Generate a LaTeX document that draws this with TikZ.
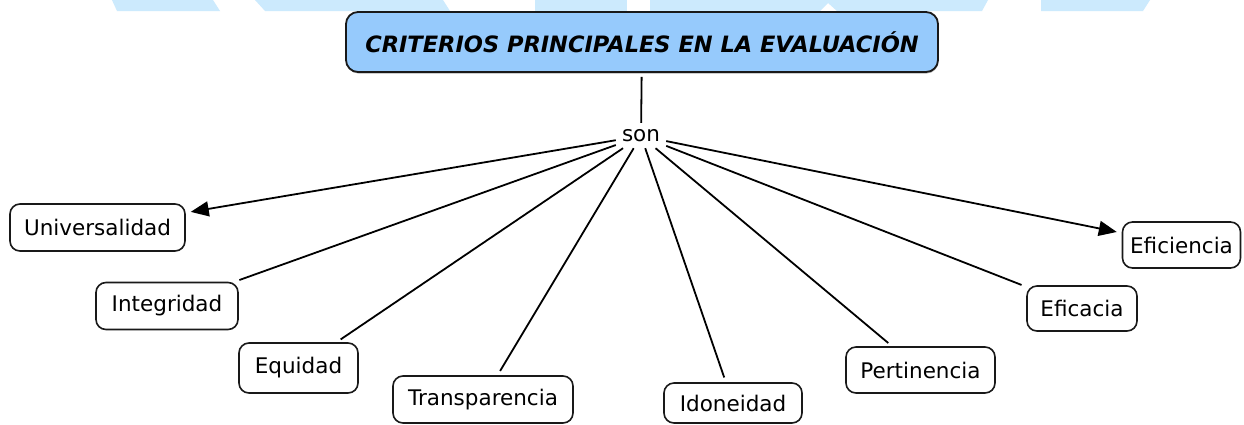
\documentclass[tikz,border=0pt]{standalone}
\usepackage{fontspec}
\setmainfont{DejaVu Sans}
\usetikzlibrary{arrows.meta,shadows}
\definecolor{wm}{RGB}{204,234,253}
\definecolor{titlefill}{RGB}{150,202,252}
\begin{document}
\begin{tikzpicture}[x=1pt,y=-1pt,
  concept/.style={draw=black!90, line width=1.6pt, rounded corners=10pt, fill=white,
    minimum height=47pt, inner sep=0pt, font=\fontsize{21.5}{25}\selectfont},
  link/.style={draw=black, line width=1.8pt, shorten >=5pt},
  arrowlink/.style={link, -{Triangle[length=18pt,width=15pt]}},
  wmshape/.style={fill=wm, draw=none},
  titlebox/.style={draw=black!90, line width=1.8pt, fill=titlefill, rounded corners=12pt,
    minimum width=592pt, minimum height=60pt, inner sep=0pt,
    drop shadow={shadow xshift=0.5pt, shadow yshift=-1.5pt, opacity=0.6},
    font=\fontsize{22.5}{26}\selectfont\bfseries\itshape},
  linkword/.style={minimum width=50pt, minimum height=24pt, inner sep=0pt,
    font=\fontsize{21.5}{25}\selectfont}]
\useasboundingbox (0,0) rectangle (1244,424);
\fill[white] (0,0) rectangle (1244,424);
% watermark shapes at the top
\fill[wmshape] (112,0) -- (213,0) -- (220,11) -- (117,11) -- cycle;
\fill[wmshape] (255,0) -- (443,0) -- (450,11) -- (265,11) -- cycle;
\fill[wmshape] (535,0) -- (627,0) -- (627,11) -- (535,11) -- cycle;
\fill[wmshape] (650,0) -- (988,0) -- (982,11) -- (837,11) -- (828,3) -- (820,11) -- (650,11) -- cycle;
\fill[wmshape] (1041,0) -- (1150,0) -- (1143,11) -- (1041,11) -- cycle;
% nodes
\node[titlebox] (title) at (642,42) {CRITERIOS PRINCIPALES EN LA EVALUACIÓN};
\node[linkword] (son) at (641,136) {son};
\node[concept, minimum width=175pt] (univ) at (97.5,227.5) {Universalidad};
\node[concept, minimum width=142pt] (integ) at (167,306) {Integridad};
\node[concept, minimum width=119pt, minimum height=50pt] (equi) at (298.5,368) {Equidad};
\node[concept, minimum width=180pt] (transp) at (483,399.5) {Transparencia};
\node[concept, minimum width=138pt, minimum height=40pt] (idon) at (733,403) {Idoneidad};
\node[concept, minimum width=149pt, minimum height=46pt] (pert) at (920.5,370) {Pertinencia};
\node[concept, minimum width=110pt, minimum height=45pt] (efic) at (1082,308.5) {Eficacia};
\node[concept, minimum width=118pt, minimum height=46pt] (efici) at (1181.5,245) {Eficiencia};
% connectors
\draw[link, shorten <=4pt, shorten >=1pt] (title) -- (son);
\draw[arrowlink] (son) -- (univ);
\draw[link] (son) -- (integ);
\draw[link] (son) -- (equi);
\draw[link] (son) -- (transp);
\draw[link] (son) -- (idon);
\draw[link] (son) -- (pert);
\draw[link] (son) -- (efic);
\draw[arrowlink] (son) -- (efici);
\end{tikzpicture}
\end{document}
